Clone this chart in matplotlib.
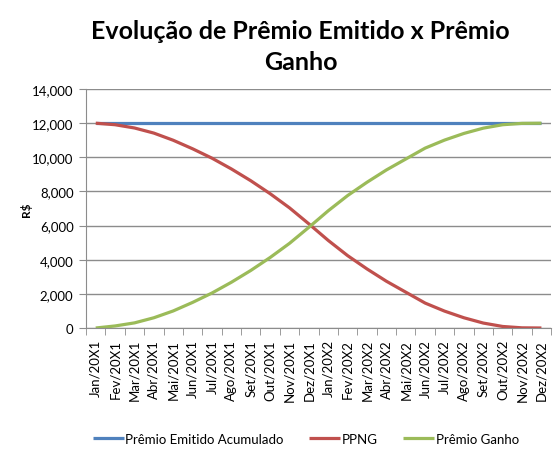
import matplotlib
matplotlib.use("Agg")
import matplotlib.pyplot as plt
from matplotlib.ticker import FuncFormatter, FixedLocator

# data
meses = ["Jan/20X1", "Fev/20X1", "Mar/20X1", "Abr/20X1", "Mai/20X1", "Jun/20X1",
         "Jul/20X1", "Ago/20X1", "Set/20X1", "Out/20X1", "Nov/20X1", "Dez/20X1",
         "Jan/20X2", "Fev/20X2", "Mar/20X2", "Abr/20X2", "Mai/20X2", "Jun/20X2",
         "Jul/20X2", "Ago/20X2", "Set/20X2", "Out/20X2", "Nov/20X2", "Dez/20X2"]
emitido = [12000] * 24
ppng = [12000, 11910, 11720, 11420, 11000, 10500, 9950, 9320, 8630, 7870, 7040, 6100,
        5130, 4240, 3460, 2740, 2100, 1460, 990, 600, 290, 90, 10, 0]
ganho = [0, 120, 300, 600, 1000, 1500, 2050, 2680, 3370, 4130, 4960, 5900,
         6870, 7760, 8540, 9260, 9900, 10540, 11010, 11400, 11710, 11910, 11990, 12000]
yticks = list(range(0, 14001, 2000))

FONT = "Lato"

fig = plt.figure(figsize=(5.55, 4.56), dpi=100)
ax = fig.add_axes([0.155, 0.2785, 0.838, 0.524])

x = range(len(meses))
ax.plot(x, emitido, color="#4F81BD", lw=2.3, label="Prêmio Emitido Acumulado", solid_capstyle="butt")
ax.plot(x, ppng, color="#C0504D", lw=2.3, label="PPNG", solid_capstyle="butt")
ax.plot(x, ganho, color="#9BBB59", lw=2.3, label="Prêmio Ganho", solid_capstyle="butt")

ax.set_xlim(-0.5, len(meses) - 0.5)
ax.set_ylim(0, 14000)
ax.set_yticks(yticks)
ax.yaxis.set_major_formatter(FuncFormatter(lambda v, p: f"{int(v):,}"))
ax.grid(axis="y", color="#8c8c8c", lw=1)
ax.set_axisbelow(True)

ax.set_xticks(list(x))
ax.set_xticklabels(meses, rotation=90, fontsize=9.5, fontfamily=FONT)
ax.xaxis.set_minor_locator(FixedLocator([i - 0.5 for i in range(len(meses) + 1)]))
ax.tick_params(axis="x", which="major", length=0, pad=8)
ax.tick_params(axis="x", which="minor", length=5, color="#8c8c8c", direction="out")
ax.tick_params(axis="y", length=5, color="#8c8c8c", labelsize=9.5, pad=4)
for lbl in ax.get_yticklabels():
    lbl.set_fontfamily(FONT)

for s in ["top", "right"]:
    ax.spines[s].set_visible(False)
for s in ["left", "bottom"]:
    ax.spines[s].set_color("#8c8c8c")

ax.set_ylabel("R$", fontsize=8.5, fontweight="bold", fontfamily=FONT)
ax.yaxis.set_label_coords(-0.116, 0.5)

fig.text(0.542, 0.897, "Evolução de Prêmio Emitido x Prêmio\nGanho", ha="center", va="center",
         fontsize=18, fontweight="bold", fontfamily=FONT, linespacing=1.4)

fig.legend(loc="center", bbox_to_anchor=(0.551, 0.035), ncol=3, frameon=False,
           prop={"family": FONT, "size": 9.5}, handlelength=2.35, handletextpad=0.15,
           columnspacing=1.9)

fig.savefig("out.png", dpi=100)
